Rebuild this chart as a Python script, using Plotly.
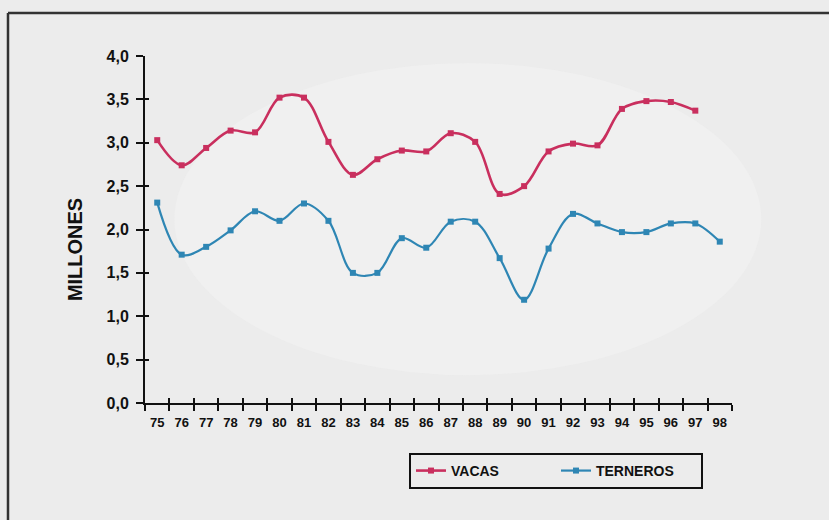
import plotly.graph_objects as go

years = ["75","76","77","78","79","80","81","82","83","84","85","86",
         "87","88","89","90","91","92","93","94","95","96","97","98"]
vacas = [3.03, 2.74, 2.94, 3.14, 3.12, 3.52, 3.52, 3.01, 2.63, 2.81, 2.91, 2.90,
         3.11, 3.01, 2.41, 2.50, 2.90, 2.99, 2.97, 3.39, 3.48, 3.47, 3.37, None]
terneros = [2.31, 1.71, 1.80, 1.99, 2.21, 2.10, 2.30, 2.10, 1.50, 1.50, 1.90, 1.79,
            2.09, 2.09, 1.67, 1.19, 1.78, 2.18, 2.07, 1.97, 1.97, 2.07, 2.07, 1.86]
y_ticks = [0, 0.5, 1.0, 1.5, 2.0, 2.5, 3.0, 3.5, 4.0]

VAC_COLOR = "#c92f5e"
TER_COLOR = "#2e86b4"
BG = "#ececec"
FONT = "Liberation Sans, Arial, sans-serif"

fig = go.Figure()
fig.add_trace(go.Scatter(
    x=years, y=vacas, name="VACAS", mode="lines+markers",
    line=dict(color=VAC_COLOR, width=2.6, shape="spline", smoothing=1.0),
    marker=dict(symbol="square", size=6, color=VAC_COLOR),
    connectgaps=False,
))
fig.add_trace(go.Scatter(
    x=years, y=terneros, name="TERNEROS", mode="lines+markers",
    line=dict(color=TER_COLOR, width=2.2, shape="spline", smoothing=1.0),
    marker=dict(symbol="square", size=6, color=TER_COLOR),
))
# invisible helper trace for the inner-tick overlay axes
fig.add_trace(go.Scatter(x=years, y=terneros, xaxis="x2", yaxis="y2",
                         mode="markers", marker=dict(opacity=0),
                         showlegend=False, hoverinfo="skip"))

axis_common = dict(showgrid=False, zeroline=False)

fig.update_layout(
    width=829, height=520,
    margin=dict(l=145, r=97, t=56, b=117),
    paper_bgcolor=BG, plot_bgcolor="rgba(0,0,0,0)",
    separators=",.",
    font=dict(family=FONT, color="#111"),
    xaxis=dict(type="category", categoryarray=years, tickson="boundaries",
               ticks="outside", ticklen=6, tickwidth=1.5, tickcolor="#111",
               showline=True, linecolor="#111", linewidth=2,
               tickfont=dict(size=13, family=FONT, weight="bold"),
               tickangle=0, ticklabelstandoff=6,
               range=[-0.5, 23.5], **axis_common),
    yaxis=dict(range=[0, 4], tickvals=y_ticks, tickformat=".1f",
               ticks="outside", ticklen=7, tickwidth=1.5, tickcolor="#111",
               showline=True, linecolor="#111", linewidth=2,
               tickfont=dict(size=16, family=FONT, weight="bold"),
               ticklabelstandoff=4, **axis_common),
    xaxis2=dict(type="category", categoryarray=years, tickson="boundaries",
                overlaying="x", anchor="y2", ticks="inside", ticklen=5,
                tickwidth=1.5, tickcolor="#111", showticklabels=False,
                showline=False, range=[-0.5, 23.5], **axis_common),
    yaxis2=dict(overlaying="y", anchor="x2", range=[0, 4], tickvals=y_ticks,
                ticks="inside", ticklen=4, tickwidth=1.5, tickcolor="#111",
                showticklabels=False, showline=False, **axis_common),
    legend=dict(orientation="h", x=0.4497, y=-0.144, xanchor="left", yanchor="top",
                bgcolor=BG, bordercolor="#111", borderwidth=2,
                font=dict(size=14, family=FONT, weight="bold", color="#111"),
                entrywidth=100, entrywidthmode="pixels"),
    showlegend=True,
)

fig.add_annotation(text="<b>MILLONES</b>", textangle=-90, xref="paper", yref="paper",
                   x=-0.119, y=0.441, xanchor="center", yanchor="middle",
                   showarrow=False, font=dict(size=20, family=FONT, color="#111"))

# faint lighter blob in the background
fig.add_shape(type="circle", xref="paper", yref="paper", x0=0.05, x1=1.05,
              y0=0.08, y1=0.98, fillcolor="#f3f3f3", line=dict(width=0),
              layer="below", opacity=0.5)

# frame (left and top edges visible)
fig.add_shape(type="line", xref="paper", yref="paper", x0=-0.2334, x1=-0.2334,
              y0=1.1239, y1=-0.5, line=dict(color="#333", width=2.5))
fig.add_shape(type="line", xref="paper", yref="paper", x0=-0.2334, x1=1.5,
              y0=1.1239, y1=1.1239, line=dict(color="#333", width=2.5))

fig.write_html("out.html")
